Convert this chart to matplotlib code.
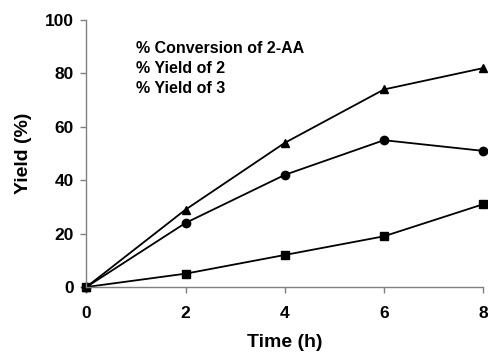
import matplotlib
matplotlib.use("Agg")
import matplotlib.pyplot as plt

time_h = [0, 2, 4, 6, 8]
conversion_2aa = [0, 29, 54, 74, 82]
yield_2 = [0, 24, 42, 55, 51]
yield_3 = [0, 5, 12, 19, 31]
labels = ["% Conversion of 2-AA", "% Yield of 2", "% Yield of 3"]
x_ticks = [0, 2, 4, 6, 8]
y_ticks = [0, 20, 40, 60, 80, 100]

plt.rcParams['font.family'] = ['Liberation Sans', 'DejaVu Sans']
plt.rcParams['font.weight'] = 'bold'

fig = plt.figure(figsize=(4.88, 3.55), dpi=100)
ax = fig.add_axes([0.177, 0.1915, 0.813, 0.752])

ax.plot(time_h, conversion_2aa, color='black', marker='^', markersize=6, linewidth=1.3, label=labels[0], clip_on=False)
ax.plot(time_h, yield_2, color='black', marker='o', markersize=6, linewidth=1.3, label=labels[1], clip_on=False)
ax.plot(time_h, yield_3, color='black', marker='s', markersize=5.5, linewidth=1.3, label=labels[2], clip_on=False)

ax.set_xlim(0, 8)
ax.set_ylim(0, 100)
ax.set_xticks(x_ticks)
ax.set_yticks(y_ticks)
for s in ['top', 'right']:
    ax.spines[s].set_visible(False)
for s in ['left', 'bottom']:
    ax.spines[s].set_color('#808080')
    ax.spines[s].set_linewidth(1.0)
ax.tick_params(axis='both', colors='#808080', labelcolor='black', labelsize=12.5, length=4, width=1.0)
ax.tick_params(axis='x', pad=10)
ax.tick_params(axis='y', pad=5)
for lab in ax.get_xticklabels() + ax.get_yticklabels():
    lab.set_fontweight('bold')

ax.set_xlabel("Time (h)", fontsize=14, fontweight='bold', labelpad=9)
ax.set_ylabel("Yield (%)", fontsize=14, fontweight='bold', labelpad=9)

leg = ax.legend(loc='upper left', bbox_to_anchor=(0.09, 0.975), frameon=False,
                handlelength=0, handletextpad=0, markerscale=0,
                prop={'size': 11.5, 'weight': 'bold'}, labelspacing=0.3)
for h in leg.legend_handles:
    h.set_visible(False)

fig.savefig("out.png", dpi=100)
